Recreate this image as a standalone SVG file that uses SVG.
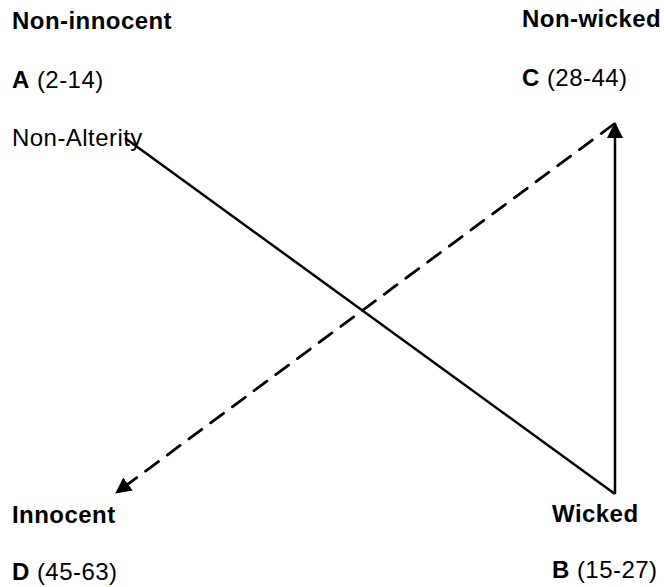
<svg xmlns="http://www.w3.org/2000/svg" width="664" height="587" viewBox="0 0 664 587">
  <style>
    text { font-family: "Liberation Sans", Arial, sans-serif; font-size: 24px; letter-spacing: 0.45px; fill: #000; }
    .b { font-weight: bold; }
    .edge { stroke: #000; stroke-width: 2.5; fill: none; }
    .dash { stroke-dasharray: 16 11; stroke-linecap: round; stroke-width: 2.8; }
  </style>
  <defs>
    <marker id="head" viewBox="0 0 16 16" refX="15" refY="8" markerWidth="16" markerHeight="16" markerUnits="userSpaceOnUse" orient="auto">
      <path d="M0,0 L16,8 L0,16 Z" fill="#000"/>
    </marker>
  </defs>

  <rect width="664" height="587" fill="#fff"/>

  <g id="node-a">
    <text x="12" y="29" class="b">Non-innocent</text>
    <text x="12" y="88"><tspan class="b">A</tspan> (2-14)</text>
    <text x="12" y="146">Non-Alterity</text>
  </g>

  <g id="node-c">
    <text x="522" y="27" class="b">Non-wicked</text>
    <text x="522" y="86"><tspan class="b">C</tspan> (28-44)</text>
  </g>

  <g id="node-d">
    <text x="12" y="523" class="b">Innocent</text>
    <text x="12" y="580"><tspan class="b">D</tspan> (45-63)</text>
  </g>

  <g id="node-b">
    <text x="552" y="522" class="b">Wicked</text>
    <text x="552" y="578"><tspan class="b">B</tspan> (15-27)</text>
  </g>

  <g id="connectors">
    <!-- A to B, plain line -->
    <line class="edge" x1="125" y1="138" x2="615" y2="494"/>
    <!-- B up to C -->
    <line class="edge" x1="615" y1="494" x2="615" y2="123" marker-end="url(#head)"/>
    <!-- C down to D, dashed -->
    <line class="edge dash" x1="614" y1="124" x2="116" y2="493" marker-end="url(#head)"/>
  </g>
</svg>
